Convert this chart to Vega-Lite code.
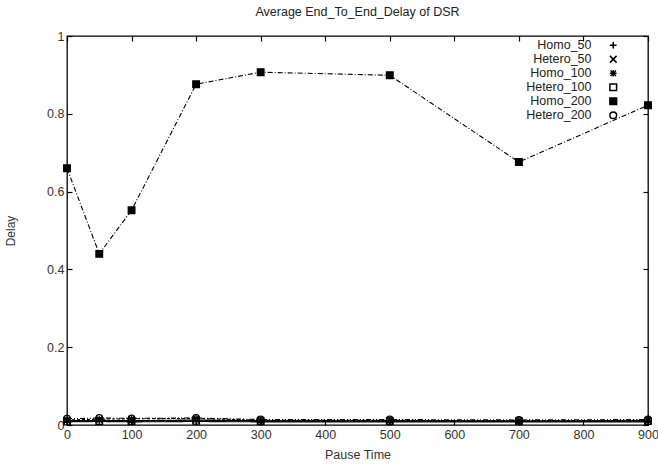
{
  "$schema": "https://vega.github.io/schema/vega-lite/v6.json",
  "width": 581,
  "height": 389,
  "autosize": {"type": "none"},
  "padding": {"left": 67, "top": 36, "right": 10, "bottom": 40},
  "background": "white",
  "title": {"text": "Average End_To_End_Delay of DSR", "font": "Liberation Sans", "fontSize": 12.5, "fontWeight": "normal", "color": "#222", "offset": 12},
  "config": {
    "view": {"stroke": "black", "strokeWidth": 1.3},
    "axis": {"grid": false, "domain": false, "labelFont": "Liberation Sans", "titleFont": "Liberation Sans", "labelFontSize": 12.5, "titleFontSize": 12.5, "titleFontWeight": "normal", "labelColor": "#333", "titleColor": "#333", "tickColor": "black", "tickSize": -5, "tickWidth": 1.2}
  },
  "data": {"values": [
    {"x": 0, "y": 0.008, "series": "Homo_50"},
    {"x": 50, "y": 0.009, "series": "Homo_50"},
    {"x": 100, "y": 0.008, "series": "Homo_50"},
    {"x": 200, "y": 0.009, "series": "Homo_50"},
    {"x": 300, "y": 0.008, "series": "Homo_50"},
    {"x": 500, "y": 0.008, "series": "Homo_50"},
    {"x": 700, "y": 0.008, "series": "Homo_50"},
    {"x": 900, "y": 0.008, "series": "Homo_50"},
    {"x": 0, "y": 0.011, "series": "Hetero_50"},
    {"x": 50, "y": 0.012, "series": "Hetero_50"},
    {"x": 100, "y": 0.011, "series": "Hetero_50"},
    {"x": 200, "y": 0.013, "series": "Hetero_50"},
    {"x": 300, "y": 0.011, "series": "Hetero_50"},
    {"x": 500, "y": 0.011, "series": "Hetero_50"},
    {"x": 700, "y": 0.010, "series": "Hetero_50"},
    {"x": 900, "y": 0.011, "series": "Hetero_50"},
    {"x": 0, "y": 0.013, "series": "Homo_100"},
    {"x": 50, "y": 0.015, "series": "Homo_100"},
    {"x": 100, "y": 0.016, "series": "Homo_100"},
    {"x": 200, "y": 0.017, "series": "Homo_100"},
    {"x": 300, "y": 0.012, "series": "Homo_100"},
    {"x": 500, "y": 0.012, "series": "Homo_100"},
    {"x": 700, "y": 0.011, "series": "Homo_100"},
    {"x": 900, "y": 0.012, "series": "Homo_100"},
    {"x": 0, "y": 0.009, "series": "Hetero_100"},
    {"x": 50, "y": 0.010, "series": "Hetero_100"},
    {"x": 100, "y": 0.010, "series": "Hetero_100"},
    {"x": 200, "y": 0.011, "series": "Hetero_100"},
    {"x": 300, "y": 0.010, "series": "Hetero_100"},
    {"x": 500, "y": 0.010, "series": "Hetero_100"},
    {"x": 700, "y": 0.010, "series": "Hetero_100"},
    {"x": 900, "y": 0.010, "series": "Hetero_100"},
    {"x": 0, "y": 0.66, "series": "Homo_200"},
    {"x": 50, "y": 0.44, "series": "Homo_200"},
    {"x": 100, "y": 0.552, "series": "Homo_200"},
    {"x": 200, "y": 0.876, "series": "Homo_200"},
    {"x": 300, "y": 0.907, "series": "Homo_200"},
    {"x": 500, "y": 0.899, "series": "Homo_200"},
    {"x": 700, "y": 0.676, "series": "Homo_200"},
    {"x": 900, "y": 0.822, "series": "Homo_200"},
    {"x": 0, "y": 0.016, "series": "Hetero_200"},
    {"x": 50, "y": 0.018, "series": "Hetero_200"},
    {"x": 100, "y": 0.017, "series": "Hetero_200"},
    {"x": 200, "y": 0.018, "series": "Hetero_200"},
    {"x": 300, "y": 0.014, "series": "Hetero_200"},
    {"x": 500, "y": 0.014, "series": "Hetero_200"},
    {"x": 700, "y": 0.013, "series": "Hetero_200"},
    {"x": 900, "y": 0.014, "series": "Hetero_200"}
  ]},
  "encoding": {
    "x": {"field": "x", "type": "quantitative", "scale": {"domain": [0, 900], "nice": false}},
    "y": {"field": "y", "type": "quantitative", "scale": {"domain": [0, 1], "nice": false}}
  },
  "layer": [
    {
      "mark": {"type": "line", "stroke": "black", "strokeWidth": 1.1},
      "encoding": {
        "x": {"field": "x", "type": "quantitative", "axis": {"orient": "bottom", "title": "Pause Time", "values": [0,100,200,300,400,500,600,700,800,900], "labelPadding": 8, "titleY": 23, "labelFlush": false}},
        "y": {"field": "y", "type": "quantitative", "axis": {"orient": "left", "title": "Delay", "titleFontSize": 12, "values": [0,0.2,0.4,0.6,0.8,1], "labelPadding": 8, "titleX": -50, "format": "~g"}},
        "strokeDash": {"field": "series", "type": "nominal", "legend": null,
          "scale": {"domain": ["Hetero_200","Homo_200","Hetero_100","Homo_100","Hetero_50","Homo_50"],
                    "range": [[5,2,1,2,1,2],[5,2,1,2],[1,0],[3,2],[1,0],[1,0]]}}
      }
    },
    {
      "mark": {"type": "point", "stroke": "black", "strokeWidth": 1.2, "opacity": 1, "size": 45},
      "encoding": {
        "x": {"field": "x", "type": "quantitative", "axis": {"orient": "top", "labels": false, "title": null, "values": [0,100,200,300,400,500,600,700,800,900]}},
        "y": {"field": "y", "type": "quantitative", "axis": {"orient": "right", "labels": false, "title": null, "values": [0,0.2,0.4,0.6,0.8,1]}},
        "shape": {"field": "series", "type": "nominal",
          "scale": {"domain": ["Homo_50","Hetero_50","Homo_100","Hetero_100","Homo_200","Hetero_200"],
                    "range": ["M-1,0H1M0,-1V1", "M-1,-1L1,1M-1,1L1,-1", "M-1,0H1M0,-1V1M-0.8,-0.8L0.8,0.8M-0.8,0.8L0.8,-0.8", "square", "square", "circle"]},
          "legend": {"orient": "none", "legendX": 540, "legendY": 3, "title": null, "labelFont": "Liberation Sans", "labelFontSize": 12.5, "labelColor": "#222", "labelAlign": "right", "labelOffset": -28, "symbolSize": 45, "rowPadding": 0, "labelLimit": 200,
            "encode": {"symbols": {"update": {"stroke": {"value": "black"}, "strokeWidth": {"value": 1.2}}}}}},
        "fill": {"field": "series", "type": "nominal",
          "scale": {"domain": ["Homo_50","Hetero_50","Homo_100","Hetero_100","Homo_200","Hetero_200"],
                    "range": ["transparent","transparent","black","transparent","black","transparent"]}}
      }
    }
  ]
}
